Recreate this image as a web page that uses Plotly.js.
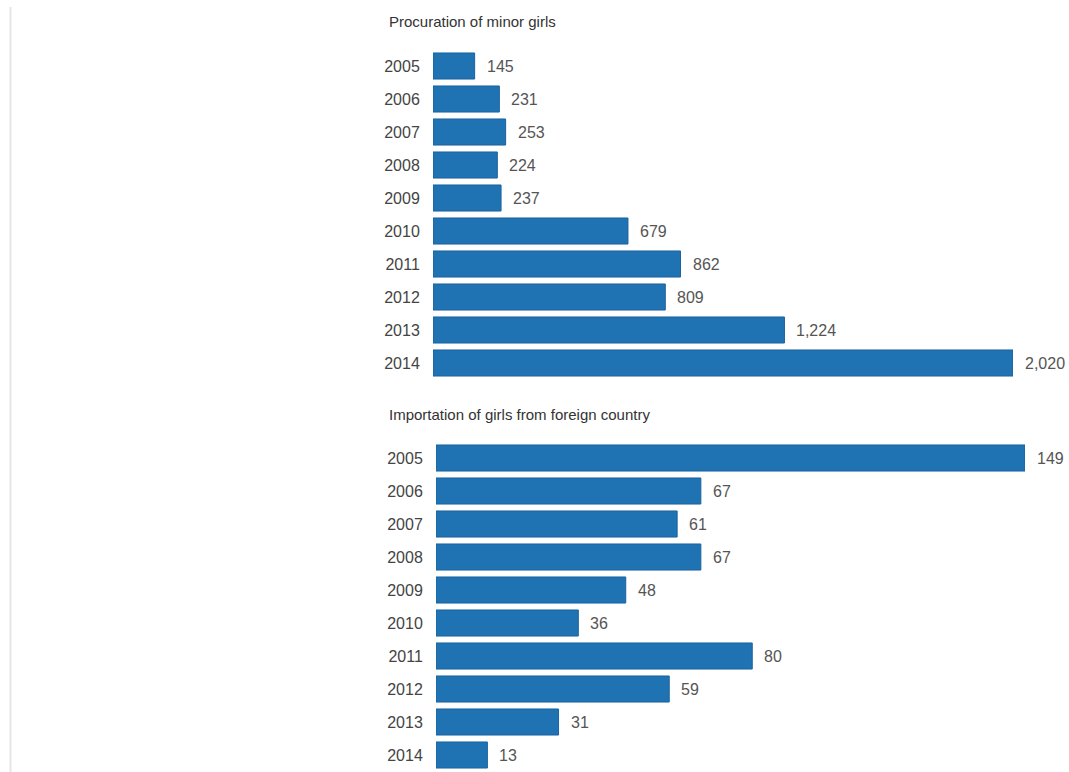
<!DOCTYPE html>
<html><head><meta charset="utf-8">
<script src="https://cdn.plot.ly/plotly-3.0.1.min.js"></script>
<style>html,body{margin:0;padding:0;background:#fff}#c{width:1069px;height:772px}</style>
</head><body><div id="c"></div>
<script>
const years = ["2005","2006","2007","2008","2009","2010","2011","2012","2013","2014"];
const procurationValues = [145,231,253,224,237,679,862,809,1224,2020];
const importationValues = [149,67,61,67,48,36,80,59,31,13];
const titleTop = "Procuration of minor girls";
const titleBottom = "Importation of girls from foreign country";

const W = 1069, H = 772;
const barColor = "#1f73b2";
const font = "Liberation Sans, Arial, sans-serif";

function bar(vals, xa, ya){
  return {type:"bar", orientation:"h", x:vals, y:years, xaxis:xa, yaxis:ya,
    marker:{color:barColor, line:{color:"#1a62a0", width:1}}, hoverinfo:"none"};
}
function labels(vals, xr, yr){
  return vals.map((v,i)=>({x:v, y:i, xref:xr, yref:yr, text:v.toLocaleString("en-US"),
    showarrow:false, xanchor:"left", yanchor:"middle", xshift:10,
    font:{family:font, size:16, color:"#555"}}));
}
const yAx = (dom)=>({domain:dom, type:"category", categoryorder:"array", categoryarray:years,
  range:[years.length-0.5, -0.5], autorange:false, showgrid:false, zeroline:false,
  showline:false, ticks:"outside", ticklen:9, tickcolor:"rgba(0,0,0,0)",
  tickfont:{family:font, size:16, color:"#444"}, fixedrange:true});
const xAx = (dom, max, anchor)=>({domain:dom, range:[0,max], autorange:false, visible:false, anchor:anchor, fixedrange:true});

const layout = {
  width:W, height:H, margin:{l:0,r:0,t:0,b:0}, paper_bgcolor:"#fff", plot_bgcolor:"#fff",
  showlegend:false, bargap:0.21,
  xaxis: xAx([433/W, 1013/W], Math.max(...procurationValues), "y"),
  yaxis: Object.assign(yAx([1-379.5/H, 1-49.5/H]), {anchor:"x"}),
  xaxis2: xAx([436/W, 1025/W], Math.max(...importationValues), "y2"),
  yaxis2: Object.assign(yAx([1-771.5/H, 1-441.5/H]), {anchor:"x2"}),
  annotations: [
    {text:titleTop, xref:"paper", yref:"paper", x:387/W, y:1-22/H, xanchor:"left", yanchor:"middle",
     showarrow:false, font:{family:font, size:15, color:"#333"}},
    {text:titleBottom, xref:"paper", yref:"paper", x:387/W, y:1-414/H, xanchor:"left", yanchor:"middle",
     showarrow:false, font:{family:font, size:15, color:"#333"}}
  ].concat(labels(procurationValues,"x","y"), labels(importationValues,"x2","y2")),
  shapes:[{type:"line", xref:"paper", yref:"paper", x0:10.5/W, x1:10.5/W, y0:0, y1:1-7/H,
    line:{color:"#e6e6e6", width:2}}]
};
Plotly.newPlot("c", [bar(procurationValues,"x","y"), bar(importationValues,"x2","y2")], layout,
  {staticPlot:true, displayModeBar:false});
</script></body></html>
